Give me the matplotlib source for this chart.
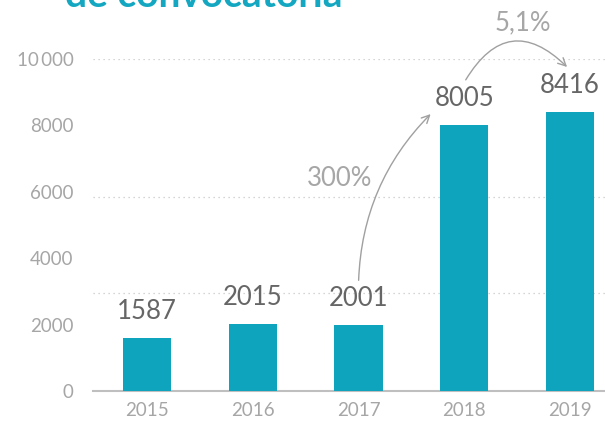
import matplotlib
matplotlib.use('Agg')
import matplotlib.pyplot as plt

# Data
years = ['2015', '2016', '2017', '2018', '2019']
values = [1587, 2015, 2001, 8005, 8416]
yticks = [0, 2000, 4000, 6000, 8000, 10000]
ytick_labels = ['0', '2000', '4000', '6000', '8000', '10\u2009000']
growth_labels = ['300%', '5,1%']

teal = '#0ea4bd'
grey_dark = '#666666'
grey_light = '#a6a6a6'

plt.rcParams['font.family'] = ['Lato', 'DejaVu Sans']

fig = plt.figure(figsize=(6.05, 4.23), dpi=100)
ax = fig.add_axes([93 / 605, 32 / 423, 1 - 93 / 605, (391 - 59) / 423])

x = range(len(years))
bars = ax.bar(x, values, width=0.455, color=teal, zorder=3)

ax.set_xlim(-0.51, 4.33)
ax.set_ylim(0, 10000)

# dotted guide lines
for gy in [10000, 5850, 2950]:
    ax.axhline(gy, color='#c8c8c8', lw=0.9, ls=(0, (1, 3)), zorder=1)

ax.set_xticks(list(x))
ax.set_xticklabels(years, fontsize=13.5, color=grey_light)
ax.set_yticks(yticks)
ax.set_yticklabels(ytick_labels, fontsize=13.5, color=grey_light)
ax.tick_params(axis='both', length=0)
ax.tick_params(axis='x', pad=8)
ax.tick_params(axis='y', pad=14)

for s in ['top', 'right', 'left']:
    ax.spines[s].set_visible(False)
ax.spines['bottom'].set_color('#bfbfbf')
ax.spines['bottom'].set_linewidth(1.5)

# value labels
for xi, v in zip(x, values):
    ax.annotate(str(v), (xi, v), xytext=(0, 10), textcoords='offset points',
                ha='center', va='bottom', fontsize=18.5, color=grey_dark)

# growth arrows
ax.annotate('', xy=(2.70, 8400), xytext=(2.0, 3250),
            arrowprops=dict(arrowstyle='->', color='#a0a0a0', lw=1.0,
                            connectionstyle='arc3,rad=-0.2', mutation_scale=14),
            annotation_clip=False)
ax.text(1.82, 6390, growth_labels[0], ha='center', va='center', fontsize=18.5,
        color=grey_light)

ax.annotate('', xy=(3.99, 9700), xytext=(3.0, 9300),
            arrowprops=dict(arrowstyle='->', color='#a0a0a0', lw=1.0,
                            connectionstyle='arc3,rad=-0.65', mutation_scale=14),
            annotation_clip=False)
ax.text(3.55, 11080, growth_labels[1], ha='center', va='center', fontsize=18.5,
        color=grey_light, clip_on=False)

# title (cut off at the top of the image, as in the source)
fig.text(65 / 605, 1 - 7 / 423, 'de convocatoria', ha='left', va='baseline',
         fontsize=28, fontweight='bold', color='#13a7c1')

fig.savefig('out.png', dpi=100, facecolor='white')
